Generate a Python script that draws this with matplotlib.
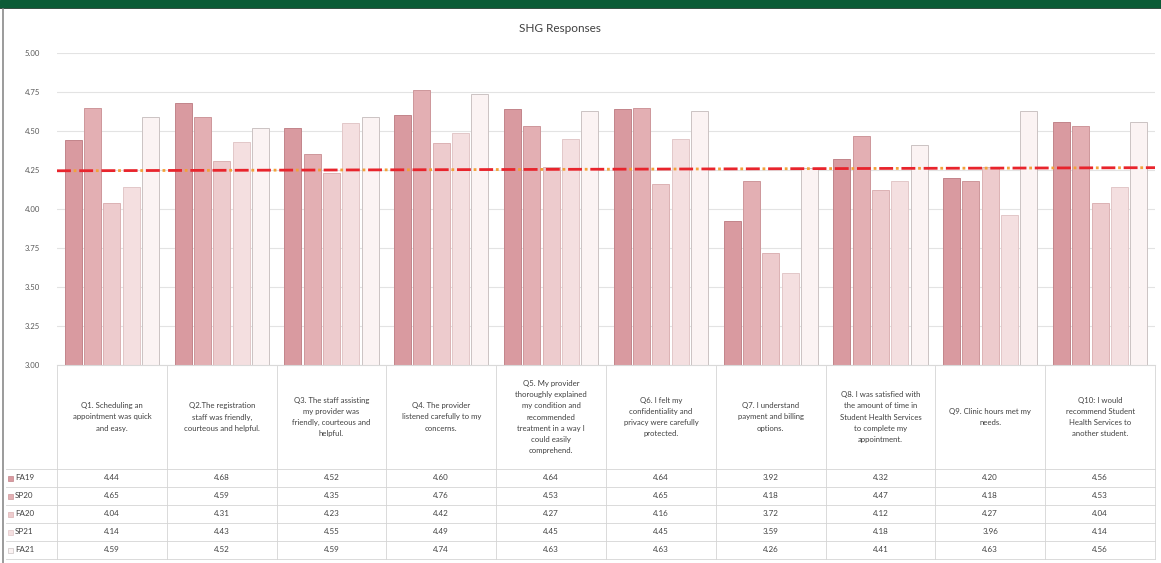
import matplotlib
matplotlib.use('Agg')
import matplotlib.pyplot as plt
import numpy as np
from matplotlib.lines import Line2D
from matplotlib.patches import Rectangle

plt.rcParams['font.family'] = ['Lato', 'DejaVu Sans']

questions = [
    'Q1. Scheduling an\nappointment was quick\nand easy.',
    'Q2.The registration\nstaff was friendly,\ncourteous and helpful.',
    'Q3. The staff assisting\nmy provider was\nfriendly, courteous and\nhelpful.',
    'Q4. The provider\nlistened carefully to my\nconcerns.',
    'Q5. My provider\nthoroughly explained\nmy condition and\nrecommended\ntreatment in a way I\ncould easily\ncomprehend.',
    'Q6. I felt my\nconfidentiality and\nprivacy were carefully\nprotected.',
    'Q7. I understand\npayment and billing\noptions.',
    'Q8. I was satisfied with\nthe amount of time in\nStudent Health Services\nto complete my\nappointment.',
    'Q9. Clinic hours met my\nneeds.',
    'Q10: I would\nrecommend Student\nHealth Services to\nanother student.',
]
seasons = ['FA19', 'SP20', 'FA20', 'SP21', 'FA21']
fa19 = [4.44, 4.68, 4.52, 4.60, 4.64, 4.64, 3.92, 4.32, 4.20, 4.56]
sp20 = [4.65, 4.59, 4.35, 4.76, 4.53, 4.65, 4.18, 4.47, 4.18, 4.53]
fa20 = [4.04, 4.31, 4.23, 4.42, 4.27, 4.16, 3.72, 4.12, 4.27, 4.04]
sp21 = [4.14, 4.43, 4.55, 4.49, 4.45, 4.45, 3.59, 4.18, 3.96, 4.14]
fa21 = [4.59, 4.52, 4.59, 4.74, 4.63, 4.63, 4.26, 4.41, 4.63, 4.56]
benchmark = [4.245, 4.265]
yticks = [3.00, 3.25, 3.50, 3.75, 4.00, 4.25, 4.50, 4.75, 5.00]

series = [fa19, sp20, fa20, sp21, fa21]
faces = ['#d99aa0', '#e3afb3', '#edcbcd', '#f4dfe0', '#fbf3f3']
edges = ['#c2848a', '#cd979b', '#dcb2b4', '#e2c7c8', '#cbc3c3']

W, H = 1161, 563
fig = plt.figure(figsize=(W / 100, H / 100), dpi=100)

# frame bits from the screenshot
fig.patches.append(Rectangle((0, 1 - 7 / H), 1, 7 / H, transform=fig.transFigure,
                             color='#0b5b36', zorder=5))
fig.lines.append(Line2D([0, 1], [1 - 7.5 / H] * 2, transform=fig.transFigure,
                        color='#1c2a22', lw=1.2))
fig.lines.append(Line2D([2.5 / W] * 2, [0, 1 - 8 / H], transform=fig.transFigure,
                        color='#8a8a8a', lw=1.2))

left, right, top, bottom = 57, 1155, 53, 365
ax = fig.add_axes([left / W, 1 - bottom / H, (right - left) / W, (bottom - top) / H])
ax.set_xlim(0, len(questions))
ax.set_ylim(3, 5)
ax.set_yticks(yticks)
ax.set_yticklabels([f'{v:.2f}' for v in yticks], fontsize=5.6, color='#595959')
ax.tick_params(axis='y', length=0, pad=12)
ax.set_xticks([])
for s in ['top', 'right', 'left']:
    ax.spines[s].set_visible(False)
ax.spines['bottom'].set_color('#d9d9d9')
ax.grid(axis='y', color='#e3e3e3', lw=0.8)
ax.set_axisbelow(True)

x = np.arange(len(questions)) + 0.5
step, width = 0.176, 0.155
for i, vals in enumerate(series):
    ax.bar(x + (i - 2) * step, np.array(vals) - 3, width, bottom=3,
           color=faces[i], edgecolor=edges[i], lw=0.7, zorder=2)

ax.plot([0, len(questions)], benchmark, color='#e8242c', lw=2.0,
        linestyle=(0, (5, 3)), zorder=4, solid_capstyle='butt')
ax.plot([0, len(questions)], benchmark, color='#f2a23a', lw=2.0,
        linestyle=(2, (1, 7)), zorder=4)

fig.text(560 / W, 1 - 28 / H, 'SHG Responses', ha='center', va='center',
         fontsize=8.5, color='#404040')

# data table under the plot
colw = (right - left) / len(questions)
head_mid = 417
row0, rowh = 478, 18
line_c = '#d4d4d4'
for j in range(len(questions) + 1):
    xx = (left + j * colw) / W
    fig.lines.append(Line2D([xx, xx], [1 - 366 / H, 1 - 559 / H],
                            transform=fig.transFigure, color=line_c, lw=0.6))
for k in range(len(seasons) + 1):
    yy = 1 - (row0 - rowh / 2 + k * rowh) / H
    fig.lines.append(Line2D([6 / W, right / W], [yy, yy],
                            transform=fig.transFigure, color=line_c, lw=0.6))

for j, q in enumerate(questions):
    fig.text((left + (j + 0.5) * colw) / W, 1 - head_mid / H, q, ha='center',
             va='center', fontsize=5.6, color='#404040', linespacing=1.7)

for i, (name, vals) in enumerate(zip(seasons, series)):
    yy = 1 - (row0 + i * rowh) / H
    fig.patches.append(Rectangle((8 / W, yy - 2.5 / H), 5 / W, 5 / H,
                                 transform=fig.transFigure, facecolor=faces[i],
                                 edgecolor=edges[i], lw=0.5))
    fig.text(15 / W, yy, name, ha='left', va='center', fontsize=5.8, color='#404040')
    for j, v in enumerate(vals):
        fig.text((left + (j + 0.5) * colw) / W, yy, f'{v:.2f}', ha='center',
                 va='center', fontsize=5.8, color='#404040')

fig.savefig('out.png', dpi=100)
